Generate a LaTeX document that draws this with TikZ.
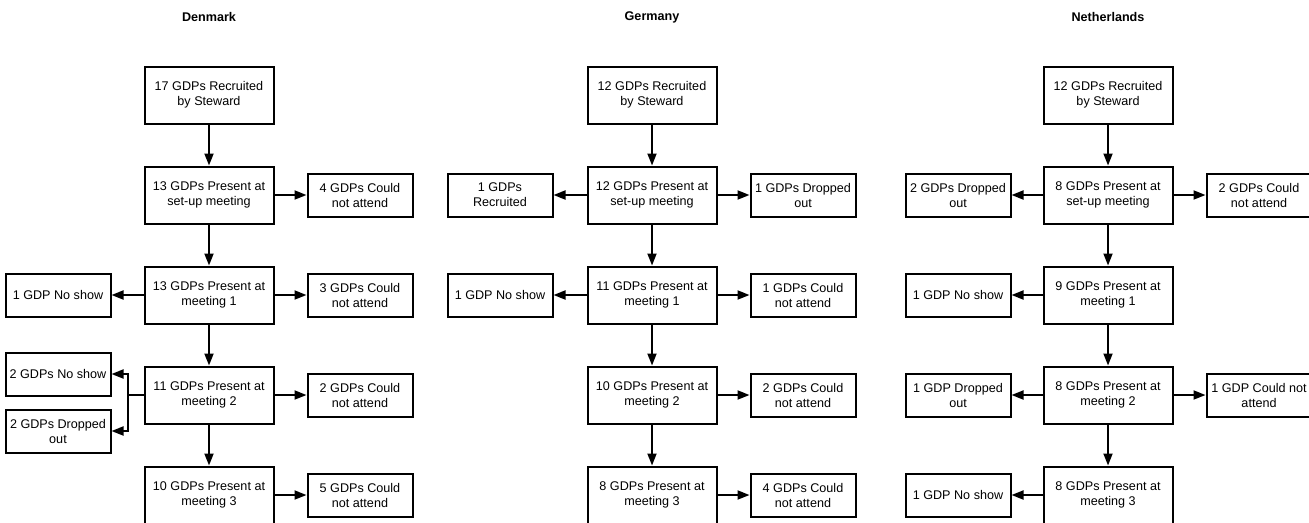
\documentclass[tikz,border=0pt]{standalone}
\usepackage{fontspec}
\setmainfont{Liberation Sans}
\usetikzlibrary{arrows.meta}
\begin{document}
\begin{tikzpicture}[x=1pt,y=-1pt,
  every node/.style={font=\fontsize{12.6}{15}\selectfont, align=center, inner sep=1pt},
  mainbox/.style={draw, line width=2pt, minimum width=129pt, minimum height=57pt},
  sidebox/.style={draw, line width=2pt, minimum width=105pt, minimum height=43pt},
  ttl/.style={font=\fontsize{12.6}{15}\selectfont\bfseries},
  arr/.style={line width=1.8pt, -{Triangle[length=12pt,width=9pt]}},
  ln/.style={line width=1.8pt}]
\useasboundingbox (0,0) rectangle (1309,522);
\fill[white] (0,0) rectangle (1309,522);
% ---------- Denmark ----------
\node[ttl] (dt) at (209,17) {Denmark};
\node[mainbox] (d1) at (209,95) {17 GDPs Recruited\\by Steward};
\node[mainbox] (d2) at (209,195) {13 GDPs Present at\\set-up meeting};
\node[mainbox] (d3) at (209,295) {13 GDPs Present at\\meeting 1};
\node[mainbox] (d4) at (209,395) {11 GDPs Present at\\meeting 2};
\node[mainbox] (d5) at (209,495) {10 GDPs Present at\\meeting 3};
\node[sidebox] (d2r) at (360,195) {4 GDPs Could\\not attend};
\node[sidebox] (d3r) at (360,295) {3 GDPs Could\\not attend};
\node[sidebox] (d4r) at (360,395) {2 GDPs Could\\not attend};
\node[sidebox] (d5r) at (360,495) {5 GDPs Could\\not attend};
\node[sidebox] (d3l) at (58,295) {1 GDP No show};
\node[sidebox] (d4a) at (58,374) {2 GDPs No show};
\node[sidebox] (d4b) at (58,431) {2 GDPs Dropped\\out};
\draw[arr] (d1) -- (d2);
\draw[arr] (d2) -- (d3);
\draw[arr] (d3) -- (d4);
\draw[arr] (d4) -- (d5);
\draw[arr] (d2) -- (d2r);
\draw[arr] (d3) -- (d3r);
\draw[arr] (d4) -- (d4r);
\draw[arr] (d5) -- (d5r);
\draw[arr] (d3) -- (d3l);
\coordinate (dj) at (128,395);
\draw[ln] (d4.west) -- (dj);
\draw[arr] (dj) |- (d4a.east);
\draw[arr] (dj) |- (d4b.east);
% ---------- Germany ----------
\node[ttl] (gt) at (652,17) {Germany};
\node[mainbox] (g1) at (652,95) {12 GDPs Recruited\\by Steward};
\node[mainbox] (g2) at (652,195) {12 GDPs Present at\\set-up meeting};
\node[mainbox] (g3) at (652,295) {11 GDPs Present at\\meeting 1};
\node[mainbox] (g4) at (652,395) {10 GDPs Present at\\meeting 2};
\node[mainbox] (g5) at (652,495) {8 GDPs Present at\\meeting 3};
\node[sidebox] (g2r) at (803,195) {1 GDPs Dropped\\out};
\node[sidebox] (g3r) at (803,295) {1 GDPs Could\\not attend};
\node[sidebox] (g4r) at (803,395) {2 GDPs Could\\not attend};
\node[sidebox] (g5r) at (803,495) {4 GDPs Could\\not attend};
\node[sidebox] (g2l) at (500,195) {1 GDPs\\Recruited};
\node[sidebox] (g3l) at (500,295) {1 GDP No show};
\draw[arr] (g1) -- (g2);
\draw[arr] (g2) -- (g3);
\draw[arr] (g3) -- (g4);
\draw[arr] (g4) -- (g5);
\draw[arr] (g2) -- (g2r);
\draw[arr] (g3) -- (g3r);
\draw[arr] (g4) -- (g4r);
\draw[arr] (g5) -- (g5r);
\draw[arr] (g2) -- (g2l);
\draw[arr] (g3) -- (g3l);
% ---------- Netherlands ----------
\node[ttl] (nt) at (1108,17) {Netherlands};
\node[mainbox] (n1) at (1108,95) {12 GDPs Recruited\\by Steward};
\node[mainbox] (n2) at (1108,195) {8 GDPs Present at\\set-up meeting};
\node[mainbox] (n3) at (1108,295) {9 GDPs Present at\\meeting 1};
\node[mainbox] (n4) at (1108,395) {8 GDPs Present at\\meeting 2};
\node[mainbox] (n5) at (1108,495) {8 GDPs Present at\\meeting 3};
\node[sidebox] (n2r) at (1259,195) {2 GDPs Could\\not attend};
\node[sidebox] (n4r) at (1259,395) {1 GDP Could not\\attend};
\node[sidebox] (n2l) at (958,195) {2 GDPs Dropped\\out};
\node[sidebox] (n3l) at (958,295) {1 GDP No show};
\node[sidebox] (n4l) at (958,395) {1 GDP Dropped\\out};
\node[sidebox] (n5l) at (958,495) {1 GDP No show};
\draw[arr] (n1) -- (n2);
\draw[arr] (n2) -- (n3);
\draw[arr] (n3) -- (n4);
\draw[arr] (n4) -- (n5);
\draw[arr] (n2) -- (n2r);
\draw[arr] (n4) -- (n4r);
\draw[arr] (n2) -- (n2l);
\draw[arr] (n3) -- (n3l);
\draw[arr] (n4) -- (n4l);
\draw[arr] (n5) -- (n5l);
\end{tikzpicture}
\end{document}
